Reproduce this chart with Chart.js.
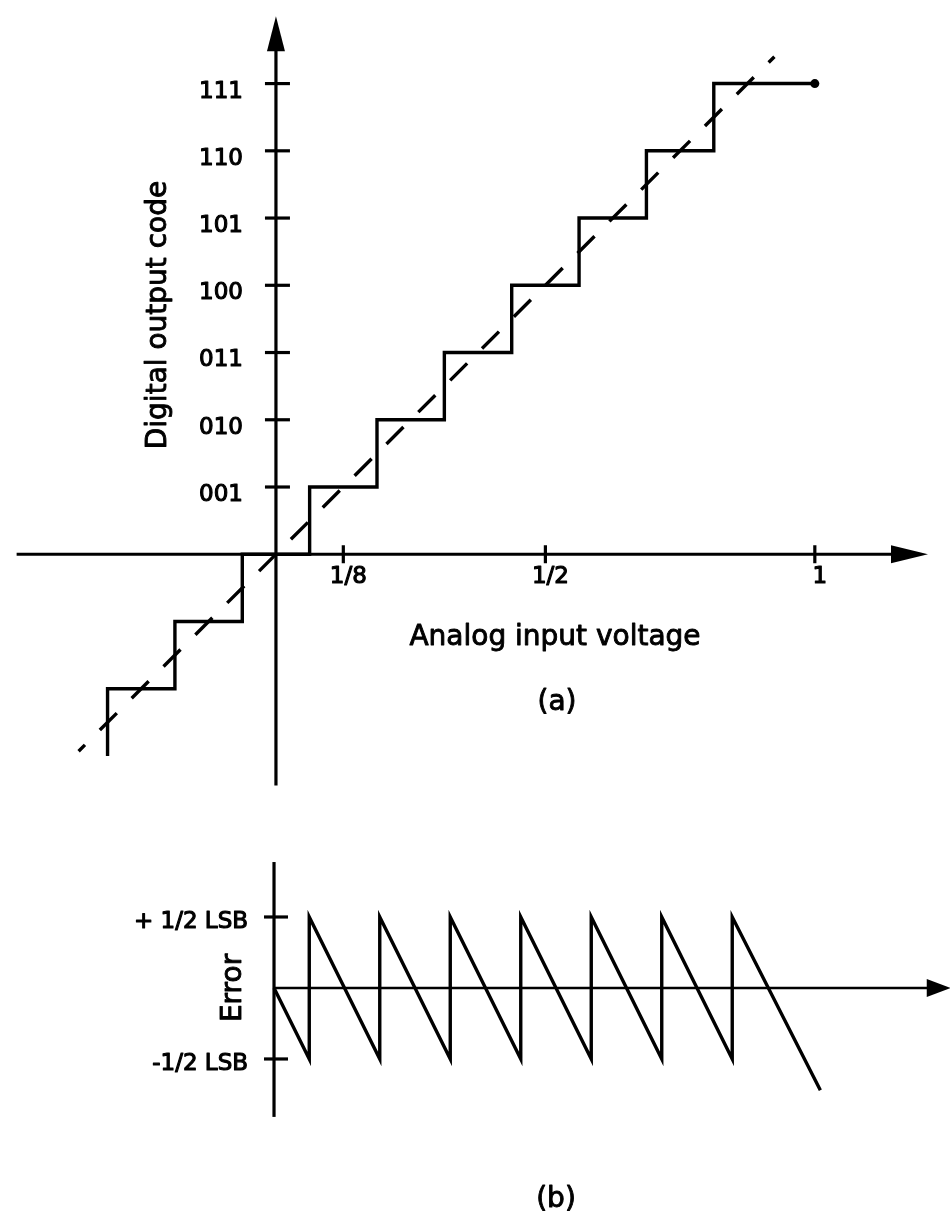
<!DOCTYPE html>
<html>
<head>
<meta charset="utf-8">
<script src="https://cdn.jsdelivr.net/npm/chart.js@4.4.0/dist/chart.umd.min.js"></script>
<style>
  html, body { margin: 0; padding: 0; background: #fff; }
  #wrap { position: relative; width: 950px; height: 1219px; overflow: hidden; }
  #transferChart { position: absolute; left: 0; top: 0; }
  #errorChart { position: absolute; left: 0; top: 820px; }
</style>
</head>
<body>
<div id="wrap">
  <canvas id="transferChart" width="950" height="800"></canvas>
  <canvas id="errorChart" width="950" height="399"></canvas>
</div>
<script>
// x values are in LSB units (1 LSB = 1/8 of full scale)
const stepX = [-2.5, -2.5, -1.5, -0.5, 0.5, 1.5, 2.5, 3.5, 4.5, 5.5, 6.5, 8];
const stepY = [-3, -2, -1, 0, 1, 2, 3, 4, 5, 6, 7, 7];
const idealX = [-2.93, 7.4];
const idealY = [-2.93, 7.4];
const codeTicks = [1, 2, 3, 4, 5, 6, 7];
const codeLabels = ['001', '010', '011', '100', '101', '110', '111'];
const voltTicks = [1, 4, 8];
const voltLabels = ['1/8', '1/2', '1'];

const errX = [0, 0.5, 0.5, 1.5, 1.5, 2.5, 2.5, 3.5, 3.5, 4.5, 4.5, 5.5, 5.5, 6.5, 6.5, 7.75];
const errY = [0, -0.5, 0.5, -0.5, 0.5, -0.5, 0.5, -0.5, 0.5, -0.5, 0.5, -0.5, 0.5, -0.5, 0.5, -0.72];
const errTicks = [0.5, -0.5];
const errLabels = ['+ 1/2 LSB', '-1/2 LSB'];

const ink = '#000';
const fontName = '"DejaVu Sans", Verdana, sans-serif';

function toPoints(xs, ys) {
    return xs.map((x, i) => ({ x: x, y: ys[i] }));
}

function segment(ctx, x1, y1, x2, y2) {
    ctx.beginPath();
    ctx.moveTo(x1, y1);
    ctx.lineTo(x2, y2);
    ctx.stroke();
}

// filled arrow head, dir is 'up' or 'right'
function arrowHead(ctx, tipX, tipY, dir, len, half) {
    ctx.beginPath();
    ctx.moveTo(tipX, tipY);
    if (dir === 'up') {
        ctx.lineTo(tipX - half, tipY + len);
        ctx.lineTo(tipX + half, tipY + len);
    } else {
        ctx.lineTo(tipX - len, tipY - half);
        ctx.lineTo(tipX - len, tipY + half);
    }
    ctx.closePath();
    ctx.fill();
}

// the scanned print is heavier than a regular face, so text gets a thin outline too
function label(ctx, str, x, y, size, align, rotate) {
    ctx.save();
    ctx.font = size + 'px ' + fontName;
    ctx.fillStyle = ink;
    ctx.strokeStyle = ink;
    ctx.lineWidth = size < 25 ? 1.1 : 0.9;
    ctx.lineJoin = 'round';
    ctx.textAlign = align || 'center';
    ctx.textBaseline = 'middle';
    ctx.translate(x, y);
    if (rotate) ctx.rotate(-Math.PI / 2);
    ctx.fillText(str, 0, 0);
    ctx.strokeText(str, 0, 0);
    ctx.restore();
}

const transferAxes = {
    id: 'transferAxes',
    beforeDatasetsDraw(chart) {
        const { ctx, scales: { x, y } } = chart;
        const x0 = x.getPixelForValue(0);
        const y0 = y.getPixelForValue(0);
        ctx.save();
        ctx.strokeStyle = ink;
        ctx.fillStyle = ink;
        ctx.lineWidth = 3.2;

        // horizontal axis with arrow
        const xTip = x.getPixelForValue(9.68);
        segment(ctx, x.getPixelForValue(-3.85), y0, xTip - 30, y0);
        arrowHead(ctx, xTip, y0, 'right', 37, 9);

        // vertical axis with arrow
        const yTip = y.getPixelForValue(8.0);
        segment(ctx, x0, y.getPixelForValue(-3.44), x0, yTip + 30);
        arrowHead(ctx, x0, yTip, 'up', 35, 9);

        codeTicks.forEach((v, i) => {
            const py = y.getPixelForValue(v);
            segment(ctx, x0 - 11, py, x0 + 14, py);
            label(ctx, codeLabels[i], x0 - 33, py + 8, 23, 'right');
        });
        voltTicks.forEach((v, i) => {
            const px = x.getPixelForValue(v);
            segment(ctx, px, y0 - 9, px, y0 + 9);
            label(ctx, voltLabels[i], px + 5, y0 + 23, 23, 'center');
        });
        ctx.restore();

        label(ctx, 'Digital output code', x0 - 117, 315, 28, 'center', true);
        label(ctx, 'Analog input voltage', 555, 638, 28, 'center');
        label(ctx, '(a)', 557, 703, 28, 'center');
    }
};

const errorAxes = {
    id: 'errorAxes',
    beforeDatasetsDraw(chart) {
        const { ctx, scales: { x, y } } = chart;
        const x0 = x.getPixelForValue(0);
        const y0 = y.getPixelForValue(0);
        ctx.save();
        ctx.strokeStyle = ink;
        ctx.fillStyle = ink;
        ctx.lineWidth = 3.2;

        segment(ctx, x0, y.getPixelForValue(0.887), x0, y.getPixelForValue(-0.908));

        const xTip = x.getPixelForValue(9.6);
        ctx.lineWidth = 2.7;
        segment(ctx, x0, y0, xTip - 20, y0);
        arrowHead(ctx, xTip, y0, 'right', 24, 9);

        ctx.lineWidth = 3.2;
        errTicks.forEach((v, i) => {
            const py = y.getPixelForValue(v);
            segment(ctx, x0 - 10, py, x0 + 14, py);
            label(ctx, errLabels[i], x0 - 26, py + 5, 23, 'right');
        });
        ctx.restore();

        label(ctx, 'Error', x0 - 40, y0, 28, 'center', true);
        label(ctx, '(b)', 556, 380, 28, 'center');
    }
};

const bareOptions = (xMin, xMax, yMin, yMax) => ({
    responsive: false,
    animation: false,
    events: [],
    layout: { padding: 0 },
    plugins: { legend: { display: false }, tooltip: { enabled: false } },
    scales: {
        x: { type: 'linear', min: xMin, max: xMax, display: false },
        y: { type: 'linear', min: yMin, max: yMax, display: false }
    }
});

new Chart(document.getElementById('transferChart'), {
    type: 'line',
    data: {
        datasets: [
            {
                label: 'Ideal',
                data: toPoints(idealX, idealY),
                borderColor: ink,
                borderWidth: 3.4,
                borderDash: [24, 21],
                borderDashOffset: 15,
                pointRadius: 0
            },
            {
                label: 'Output code',
                data: toPoints(stepX, stepY),
                stepped: true,
                borderColor: ink,
                borderWidth: 3.4,
                pointRadius: (c) => (c.dataIndex === stepX.length - 1 ? 4.5 : 0),
                pointBackgroundColor: ink,
                pointBorderWidth: 0
            }
        ]
    },
    options: bareOptions(-4.03, 9.94, -3.588, 8.176),
    plugins: [transferAxes]
});

new Chart(document.getElementById('errorChart'), {
    type: 'line',
    data: {
        datasets: [{
            label: 'Error',
            data: toPoints(errX, errY),
            borderColor: ink,
            borderWidth: 3.4,
            borderJoinStyle: 'miter',
            pointRadius: 0
        }]
    },
    options: bareOptions(-3.887, 9.589, -1.627, 1.183),
    plugins: [errorAxes]
});
</script>
</body>
</html>
